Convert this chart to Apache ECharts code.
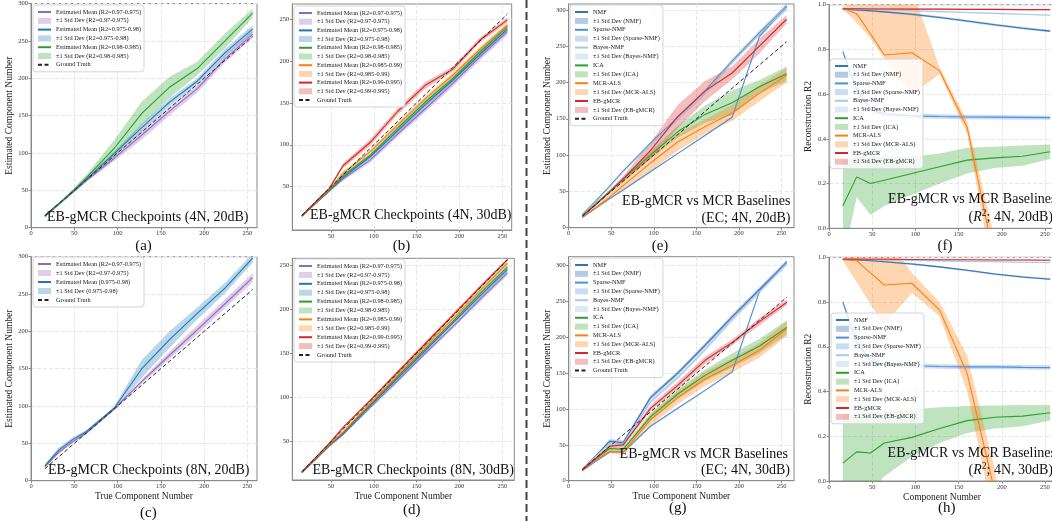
<!DOCTYPE html>
<html>
<head>
<meta charset="utf-8">
<script src="https://cdn.jsdelivr.net/npm/echarts@6/dist/echarts.min.js"></script>
<style>
html, body { margin: 0; padding: 0; background: #fff; }
#main { width: 1052px; height: 521px; }
</style>
</head>
<body>
<div id="main"></div>
<script>
// true component numbers (x for every panel)
const X = [16, 32, 48, 64, 96, 128, 160, 192, 224, 256];
const truth = [16, 32, 48, 64, 96, 128, 160, 192, 224, 256];

// (a) checkpoints 4N 20dB
const aMean1 = [15, 31, 47, 63, 93, 124, 156, 186, 226, 259];
const aStd1 = [1, 1, 2, 2, 4, 6, 6, 5, 5, 5];
const aMean2 = [16, 32, 48, 65, 99, 134, 168, 196, 234, 266];
const aStd2 = [1, 1, 1, 2, 3, 5, 5, 4, 5, 5];
const aMean3 = [16, 32, 49, 67, 106, 153, 188, 213, 250, 287];
const aStd3 = [1, 1, 2, 4, 11, 16, 14, 9, 10, 6];

// (b) checkpoints 4N 30dB
const bMean1 = [15, 30, 45, 59, 82, 113, 143, 173, 205, 235];
const bStd1 = [0.5, 1, 1, 2, 3, 3, 4, 4, 4, 4];
const bMean2 = [15, 30, 45, 61, 86, 117, 148, 177, 208, 238];
const bStd2 = [0.5, 1, 1, 2, 2, 3, 3, 3, 3, 3];
const bMean3 = [15, 31, 46, 63, 88, 120, 151, 179, 211, 241];
const bStd3 = [0.5, 1, 1, 2, 2, 3, 3, 3, 3, 3];
const bMean4 = [15, 31, 47, 66, 92, 124, 155, 183, 214, 243];
const bStd4 = [0.5, 1, 1, 2, 2, 3, 3, 3, 3, 3];
const bMean5 = [15, 32, 48, 75, 103, 140, 171, 190, 225, 249];
const bStd5 = [0.5, 1, 1, 3, 4, 4, 4, 3, 3, 3];

// (c) checkpoints 8N 20dB
const cMean1 = [19, 38, 52, 64, 96, 133, 168, 202, 237, 272];
const cStd1 = [2, 2, 2, 2, 2, 3, 5, 6, 6, 6];
const cMean2 = [20, 41, 55, 66, 97, 150, 189, 224, 258, 298];
const cStd2 = [2, 3, 3, 2, 2, 12, 11, 8, 7, 6];

// (d) checkpoints 8N 30dB
const dMean1 = [15, 30, 45, 58, 89, 119, 150, 180, 211, 241];
const dStd1 = [0.5, 0.5, 1, 1, 2, 2, 2.5, 2.5, 3, 3];
const dMean2 = [15, 30, 46, 59, 91, 122, 153, 184, 215, 245];
const dStd2 = [0.5, 0.5, 1, 1, 1.5, 2, 2, 2, 2.5, 2.5];
const dMean3 = [15, 31, 46, 60, 92, 124, 155, 186, 218, 248];
const dStd3 = [0.5, 0.5, 1, 1, 1.5, 2, 2, 2, 2, 2];
const dMean4 = [16, 31, 47, 61, 94, 126, 158, 189, 221, 252];
const dStd4 = [0.5, 0.5, 1, 1, 1.5, 2, 2, 2, 2, 2];
const dMean5 = [16, 32, 48, 66, 97, 129, 161, 193, 225, 256];
const dStd5 = [0.5, 0.5, 1, 1.5, 1.5, 2, 2, 2, 2, 2];

// (e) baselines EC 4N 20dB
const eNmf = [18, 37, 57, 78, 116, 151, 187, 229, 268, 304];
const eNmfStd = [1, 1, 1, 1, 2, 2, 3, 3, 3, 4];
const eSparse = [14, 27, 40, 52, 77, 102, 127, 152, 263, 305];
const eSparseStd = [1, 1, 1, 1, 1, 1, 1, 1, 2, 2];
const eBayes = [17, 36, 56, 77, 115, 150, 186, 228, 267, 303];
const eBayesStd = [1, 1, 1, 1, 2, 2, 3, 3, 3, 4];
const eIca = [16, 33, 50, 67, 100, 132, 156, 172, 194, 212];
const eIcaStd = [1, 1, 2, 3, 5, 8, 12, 17, 9, 10];
const eMcr = [15, 28, 42, 58, 89, 118, 139, 158, 185, 210];
const eMcrStd = [1, 2, 4, 6, 12, 12, 10, 11, 11, 10];
const eEb = [16, 32, 49, 67, 106, 153, 188, 213, 250, 287];
const eEbStd = [1, 1, 2, 4, 11, 16, 14, 9, 10, 6];

// (f) reconstruction R2, 4N 20dB
const fNmf = [0.980, 0.977, 0.973, 0.968, 0.957, 0.943, 0.927, 0.910, 0.895, 0.882];
const fNmfStd = [0.004, 0.004, 0.004, 0.004, 0.005, 0.005, 0.005, 0.005, 0.005, 0.005];
const fSparse = [0.79, 0.62, 0.53, 0.51, 0.503, 0.500, 0.498, 0.497, 0.496, 0.495];
const fSparseStd = [0.01, 0.02, 0.015, 0.01, 0.01, 0.01, 0.01, 0.01, 0.01, 0.01];
const fBayes = [0.982, 0.981, 0.979, 0.977, 0.973, 0.969, 0.965, 0.961, 0.957, 0.953];
const fBayesStd = [0.003, 0.003, 0.003, 0.003, 0.003, 0.003, 0.003, 0.003, 0.003, 0.003];
const fIca = [0.10, 0.23, 0.20, 0.215, 0.245, 0.275, 0.305, 0.315, 0.322, 0.342];
const fIcaLo = [-0.15, 0.14, 0.06, 0.10, 0.15, 0.20, 0.245, 0.27, 0.28, 0.31];
const fIcaHi = [0.30, 0.32, 0.32, 0.32, 0.32, 0.335, 0.36, 0.365, 0.37, 0.375];
const fMcr = [0.985, 0.96, 0.87, 0.775, 0.785, 0.705, 0.45, -0.15, -1.0, -1.8];
const fMcrLo = [0.98, 0.92, 0.85, 0.76, 0.60, 0.69, 0.42, -0.25, -1.2, -2.1];
const fMcrHi = [0.99, 1.02, 1.05, 1.08, 1.07, 0.72, 0.48, -0.05, -0.8, -1.5];
const fEb = [0.982, 0.982, 0.981, 0.981, 0.980, 0.980, 0.979, 0.979, 0.978, 0.978];
const fEbStd = [0.003, 0.003, 0.003, 0.003, 0.003, 0.003, 0.003, 0.003, 0.003, 0.003];

// (g) baselines EC 4N 30dB
const gNmf = [16, 35, 55, 53, 116, 150, 189, 229, 267, 305];
const gNmfStd = [1, 1, 3, 3, 3, 3, 3, 3, 3, 3];
const gSparse = [14, 27, 40, 40, 76, 101, 126, 152, 265, 305];
const gSparseStd = [1, 1, 1, 1, 1, 1, 1, 1, 2, 2];
const gBayes = [16, 34, 52, 51, 110, 144, 183, 225, 264, 303];
const gBayesStd = [1, 1, 2, 2, 3, 3, 3, 3, 3, 3];
const gIca = [15, 31, 45, 44, 89, 121, 147, 168, 188, 214];
const gIcaStd = [1, 1, 3, 3, 5, 7, 8, 10, 10, 10];
const gMcr = [14, 29, 41, 40, 85, 116, 142, 161, 182, 212];
const gMcrStd = [1, 2, 3, 4, 8, 9, 10, 10, 10, 10];
const gEb = [15, 31, 48, 50, 101, 133, 168, 193, 222, 249];
const gEbStd = [1, 1, 2, 3, 4, 5, 5, 4, 5, 4];

// (h) reconstruction R2, 4N 30dB
const hNmf = [0.990, 0.988, 0.985, 0.980, 0.970, 0.957, 0.942, 0.925, 0.912, 0.902];
const hNmfStd = [0.003, 0.003, 0.003, 0.003, 0.004, 0.004, 0.004, 0.004, 0.004, 0.004];
const hSparse = [0.80, 0.62, 0.54, 0.52, 0.515, 0.512, 0.510, 0.510, 0.508, 0.507];
const hSparseStd = [0.01, 0.03, 0.02, 0.01, 0.01, 0.01, 0.01, 0.01, 0.01, 0.01];
const hBayes = [0.991, 0.990, 0.989, 0.988, 0.986, 0.984, 0.982, 0.980, 0.978, 0.976];
const hBayesStd = [0.002, 0.002, 0.002, 0.002, 0.002, 0.002, 0.002, 0.002, 0.002, 0.002];
const hIca = [0.08, 0.13, 0.125, 0.17, 0.195, 0.235, 0.27, 0.285, 0.29, 0.305];
const hIcaLo = [-0.3, -0.2, -0.05, 0.02, 0.11, 0.17, 0.215, 0.235, 0.245, 0.27];
const hIcaHi = [0.30, 0.30, 0.31, 0.31, 0.32, 0.33, 0.335, 0.338, 0.34, 0.34];
const hMcr = [0.991, 0.985, 0.93, 0.876, 0.884, 0.764, 0.48, -0.05, -0.9, -1.7];
const hMcrLo = [0.985, 0.89, 0.79, 0.70, 0.84, 0.735, 0.40, -0.2, -1.1, -1.9];
const hMcrHi = [0.995, 1.01, 1.06, 1.10, 0.93, 0.80, 0.56, 0.05, -0.7, -1.5];
const hEb = [0.992, 0.992, 0.991, 0.991, 0.990, 0.989, 0.989, 0.988, 0.988, 0.987];
const hEbStd = [0.002, 0.002, 0.002, 0.002, 0.002, 0.002, 0.002, 0.002, 0.002, 0.002];

// tick labels
const xTicks0 = [0, 50, 100, 150, 200, 250];
const xTicks50 = [50, 100, 150, 200, 250];
const yTicks300 = [0, 50, 100, 150, 200, 250, 300];
const yTicks250 = [50, 100, 150, 200, 250];
const yTicksR2 = [0, 0.2, 0.4, 0.6, 0.8, 1.0];

const FONT = '"Liberation Serif", "DejaVu Serif", serif';
const col = {
  purple: '#9467bd', blue: '#1f77b4', green: '#2ca02c', orange: '#ff7f0e', red: '#d62728',
  nmf: '#3474b6', sparse: '#5090d8', bayes: '#a9c8ec'
};
const fill = {
  purple: 'rgba(148,103,189,0.32)', blue: 'rgba(31,119,180,0.3)', green: 'rgba(44,160,44,0.3)',
  orange: 'rgba(255,127,14,0.32)', red: 'rgba(214,39,40,0.3)',
  nmf: 'rgba(52,116,182,0.38)', sparse: 'rgba(80,144,216,0.3)', bayes: 'rgba(169,200,236,0.4)'
};

const series = [];
const bandColor = {};

function line(gi, name, ys, color, dashed) {
  series.push({
    type: 'line', name, xAxisIndex: gi, yAxisIndex: gi,
    data: X.map((x, i) => [x, ys[i]]),
    symbol: 'none', showSymbol: false, silent: true, animation: false, clip: true,
    lineStyle: {color, width: dashed ? 1 : 1.1, type: dashed ? [4, 2.5] : 'solid'},
    itemStyle: {color},
    z: dashed ? 5 : 3
  });
}

function band(gi, name, lo, hi, color) {
  bandColor[name] = color;
  series.push({
    type: 'custom', name, xAxisIndex: gi, yAxisIndex: gi,
    silent: true, animation: false,
    data: [[X[0], lo[0]]],
    itemStyle: {color},
    z: 2,
    renderItem(params, api) {
      const pts = X.map((x, i) => api.coord([x, lo[i]]));
      for (let i = X.length - 1; i >= 0; i--) pts.push(api.coord([X[i], hi[i]]));
      const cs = params.coordSys;
      return {
        type: 'polygon',
        shape: {points: pts},
        style: {fill: color},
        clipPath: {type: 'rect', shape: {x: cs.x, y: cs.y, width: cs.width, height: cs.height}}
      };
    }
  });
}

function meanStd(gi, lineName, bandName, m, s, key) {
  line(gi, lineName, m, col[key]);
  band(gi, bandName, m.map((v, i) => v - s[i]), m.map((v, i) => v + s[i]), fill[key]);
}

const R = ['0.97-0.975', '0.975-0.98', '0.98-0.985', '0.985-0.99', '0.99-0.995'];
const ck = ['purple', 'blue', 'green', 'orange', 'red'];
const mName = r => 'Estimated Mean (R2=' + r + ')';
const sName = r => '±1 Std Dev (R2=' + r + ')';

// (a)
[[aMean1, aStd1], [aMean2, aStd2], [aMean3, aStd3]].forEach((p, k) =>
  meanStd(0, mName(R[k]), sName(R[k]), p[0], p[1], ck[k]));
line(0, 'Ground Truth', truth, '#222', true);

// (b)
[[bMean1, bStd1], [bMean2, bStd2], [bMean3, bStd3], [bMean4, bStd4], [bMean5, bStd5]].forEach((p, k) =>
  meanStd(1, mName(R[k]), sName(R[k]), p[0], p[1], ck[k]));
line(1, 'Ground Truth', truth, '#222', true);

// (c)
meanStd(2, mName(R[0]), sName(R[0]), cMean1, cStd1, 'purple');
meanStd(2, 'Estimated Mean (0.975-0.98)', '±1 Std Dev (0.975-0.98)', cMean2, cStd2, 'blue');
line(2, 'Ground Truth', truth, '#222', true);

// (d)
[[dMean1, dStd1], [dMean2, dStd2], [dMean3, dStd3], [dMean4, dStd4], [dMean5, dStd5]].forEach((p, k) =>
  meanStd(3, mName(R[k]), sName(R[k]), p[0], p[1], ck[k]));
line(3, 'Ground Truth', truth, '#222', true);

// (e) (f) (g) (h)
function baselines(gi, d) {
  meanStd(gi, 'NMF', '±1 Std Dev (NMF)', d.nmf, d.nmfS, 'nmf');
  meanStd(gi, 'Sparse-NMF', '±1 Std Dev (Sparse-NMF)', d.sp, d.spS, 'sparse');
  meanStd(gi, 'Bayes-NMF', '±1 Std Dev (Bayes-NMF)', d.by, d.byS, 'bayes');
  if (d.icaLo) {
    line(gi, 'ICA', d.ica, col.green);
    band(gi, '±1 Std Dev (ICA)', d.icaLo, d.icaHi, fill.green);
    line(gi, 'MCR-ALS', d.mcr, col.orange);
    band(gi, '±1 Std Dev (MCR-ALS)', d.mcrLo, d.mcrHi, fill.orange);
  } else {
    meanStd(gi, 'ICA', '±1 Std Dev (ICA)', d.ica, d.icaS, 'green');
    meanStd(gi, 'MCR-ALS', '±1 Std Dev (MCR-ALS)', d.mcr, d.mcrS, 'orange');
  }
  meanStd(gi, 'EB-gMCR', '±1 Std Dev (EB-gMCR)', d.eb, d.ebS, 'red');
}
baselines(4, {nmf: eNmf, nmfS: eNmfStd, sp: eSparse, spS: eSparseStd, by: eBayes, byS: eBayesStd,
  ica: eIca, icaS: eIcaStd, mcr: eMcr, mcrS: eMcrStd, eb: eEb, ebS: eEbStd});
line(4, 'Ground Truth', truth, '#222', true);
baselines(5, {nmf: fNmf, nmfS: fNmfStd, sp: fSparse, spS: fSparseStd, by: fBayes, byS: fBayesStd,
  ica: fIca, icaLo: fIcaLo, icaHi: fIcaHi, mcr: fMcr, mcrLo: fMcrLo, mcrHi: fMcrHi, eb: fEb, ebS: fEbStd});
baselines(6, {nmf: gNmf, nmfS: gNmfStd, sp: gSparse, spS: gSparseStd, by: gBayes, byS: gBayesStd,
  ica: gIca, icaS: gIcaStd, mcr: gMcr, mcrS: gMcrStd, eb: gEb, ebS: gEbStd});
line(6, 'Ground Truth', truth, '#222', true);
baselines(7, {nmf: hNmf, nmfS: hNmfStd, sp: hSparse, spS: hSparseStd, by: hBayes, byS: hBayesStd,
  ica: hIca, icaLo: hIcaLo, icaHi: hIcaHi, mcr: hMcr, mcrLo: hMcrLo, mcrHi: hMcrHi, eb: hEb, ebS: hEbStd});

// layout: a b c d e f g h
const grids = [
  {left: 31, top: 3.5, width: 226, height: 224.2},
  {left: 292.3, top: 4, width: 219.4, height: 226},
  {left: 31, top: 256.7, width: 226, height: 224},
  {left: 292.3, top: 258.3, width: 222, height: 221.7},
  {left: 568.7, top: 4, width: 225.3, height: 223.7},
  {left: 829, top: 4.7, width: 226, height: 223.6},
  {left: 568.7, top: 256.7, width: 225.3, height: 224},
  {left: 829, top: 257.3, width: 226, height: 223.7}
];
const xRange = [[0, 261], [4.8, 261], [0, 261], [4.8, 264], [0, 264.7], [0, 261.6], [0, 264.4], [0, 261.6]];
const yRange = [[0, 300], [-1.7, 268], [0, 300], [6.6, 257.6], [0, 308], [0, 1], [0, 312.6], [0, 1]];
const xT = [xTicks0, xTicks50, xTicks0, xTicks50, xTicks0, xTicks0, xTicks0, xTicks0];
const yT = [yTicks300, yTicks250, yTicks300, yTicks250, yTicks300, yTicksR2, yTicks300, yTicksR2];
const xName = ['', '', 'True Component Number', 'True Component Number', '', '', 'True Component Number', 'Component Number'];
const yName = ['Estimated Component Number', '', 'Estimated Component Number', '', 'Estimated Component Number',
  'Reconstruction R2', 'Estimated Component Number', 'Reconstruction R2'];
const yGap = [16, 0, 16, 0, 15.5, 12.5, 15.5, 12.5];

const axisCommon = {
  axisLine: {show: true, onZero: false, lineStyle: {color: '#8a8a8a', width: 1}},
  splitLine: {show: true, lineStyle: {color: '#e6e6e6', type: 'dashed', width: 1}},
  nameLocation: 'middle',
  nameTextStyle: {fontSize: 9.5, color: '#222', fontFamily: FONT}
};

const xAxis = grids.map((g, i) => Object.assign({}, axisCommon, {
  type: 'value', gridIndex: i, min: xRange[i][0], max: xRange[i][1],
  axisTick: {show: true, length: 2.5, lineStyle: {color: '#8a8a8a'}, customValues: xT[i]},
  axisLabel: {fontSize: 6.5, color: '#333', margin: 2.5, fontFamily: FONT, customValues: xT[i]},
  name: xName[i], nameGap: 11
}));
const yAxis = grids.map((g, i) => Object.assign({}, axisCommon, {
  type: 'value', gridIndex: i, min: yRange[i][0], max: yRange[i][1],
  axisTick: {show: true, length: 2.5, lineStyle: {color: '#8a8a8a'}, customValues: yT[i]},
  axisLabel: {fontSize: 6.5, color: '#333', margin: 3, fontFamily: FONT, customValues: yT[i],
    formatter: v => (i === 5 || i === 7) ? v.toFixed(1) : String(v)},
  name: yName[i], nameGap: yGap[i]
}));

const ckNames3 = [0, 1, 2].flatMap(k => [mName(R[k]), sName(R[k])]).concat(['Ground Truth']);
const ckNames5 = [0, 1, 2, 3, 4].flatMap(k => [mName(R[k]), sName(R[k])]).concat(['Ground Truth']);
const ckNamesC = [mName(R[0]), sName(R[0]), 'Estimated Mean (0.975-0.98)', '±1 Std Dev (0.975-0.98)', 'Ground Truth'];
const baseNames = ['NMF', 'Sparse-NMF', 'Bayes-NMF', 'ICA', 'MCR-ALS', 'EB-gMCR']
  .flatMap(n => [n, '±1 Std Dev (' + n + ')']);

function legend(left, top, names, gap) {
  return {
    left, top, orient: 'vertical', selectedMode: false,
    itemWidth: 13, itemHeight: 6, itemGap: gap,
    backgroundColor: 'rgba(255,255,255,0.8)', borderColor: '#d4d4d4', borderWidth: 1, borderRadius: 3,
    padding: [3, 3, 3, 4],
    textStyle: {fontSize: 6.3, lineHeight: 8, color: '#222', fontFamily: FONT},
    // band entries get a filled patch, line entries a bare line (symbol hidden)
    data: names.map(n => bandColor[n]
      ? {name: n, icon: 'rect', itemStyle: {color: bandColor[n], borderWidth: 0}}
      : {name: n, itemStyle: {opacity: 0, borderWidth: 0}})
  };
}

const legends = [
  legend(33, 5, ckNames3, 0.8),
  legend(294, 6, ckNames5, 0.7),
  legend(33, 257, ckNamesC, 1),
  legend(294, 259, ckNames5, 0.9),
  legend(570, 5, baseNames.concat(['Ground Truth']), 0.9),
  legend(830, 59, baseNames, 0.7),
  legend(570, 258, baseNames.concat(['Ground Truth']), 0.8),
  legend(831, 313, baseNames, 0.8)
];

function txt(x, y, text, size, align, rich) {
  const style = {text, font: size + 'px ' + FONT, fill: '#111',
    textAlign: align, align: align, textVerticalAlign: 'middle', verticalAlign: 'middle'};
  if (rich) style.rich = rich;
  return {type: 'text', x, y, silent: true, z: 50, style};
}
const supRich = {
  i: {fontStyle: 'italic', fontSize: 14, fontFamily: FONT},
  s: {fontSize: 9.5, fontFamily: FONT, padding: [0, 0, 7, 0]}
};

const graphic = [
  {type: 'line', silent: true, z: 50, shape: {x1: 526.5, y1: 0, x2: 526.5, y2: 521},
    style: {stroke: '#444', lineWidth: 2, lineDash: [8, 4]}},
  txt(248.5, 217, 'EB-gMCR Checkpoints (4N, 20dB)', 14, 'right'),
  txt(511.5, 215, 'EB-gMCR Checkpoints (4N, 30dB)', 14, 'right'),
  txt(249.5, 470, 'EB-gMCR Checkpoints (8N, 20dB)', 14, 'right'),
  txt(514, 470, 'EB-gMCR Checkpoints (8N, 30dB)', 14, 'right'),
  txt(790.5, 201.7, 'EB-gMCR vs MCR Baselines', 14, 'right'),
  txt(790.5, 218.3, '(EC; 4N, 20dB)', 14, 'right'),
  txt(1056.5, 199, 'EB-gMCR vs MCR Baselines', 14, 'right'),
  txt(1053, 217, '({i|R}{s|2}; 4N, 20dB)', 14, 'right', supRich),
  txt(788, 454, 'EB-gMCR vs MCR Baselines', 14, 'right'),
  txt(790, 470, '(EC; 4N, 30dB)', 14, 'right'),
  txt(1056, 453.3, 'EB-gMCR vs MCR Baselines', 14, 'right'),
  txt(1053, 470, '({i|R}{s|2}; 4N, 30dB)', 14, 'right', supRich),
  txt(143.5, 246, '(a)', 15, 'center'),
  txt(401.5, 246, '(b)', 15, 'center'),
  txt(148.3, 513, '(c)', 15, 'center'),
  txt(411.7, 510, '(d)', 15, 'center'),
  txt(660, 246, '(e)', 15, 'center'),
  txt(945, 246, '(f)', 15, 'center'),
  txt(677.7, 508.3, '(g)', 15, 'center'),
  txt(946.7, 508.3, '(h)', 15, 'center')
];

const chart = echarts.init(document.getElementById('main'), null, {renderer: 'canvas'});
chart.setOption({
  animation: false,
  backgroundColor: '#fff',
  textStyle: {fontFamily: FONT},
  grid: grids.map(g => Object.assign({show: true, borderColor: '#8a8a8a', borderWidth: 1,
    backgroundColor: 'transparent', outerBoundsMode: 'none', containLabel: false}, g)),
  xAxis,
  yAxis,
  legend: legends,
  series,
  graphic
});
</script>
</body>
</html>
